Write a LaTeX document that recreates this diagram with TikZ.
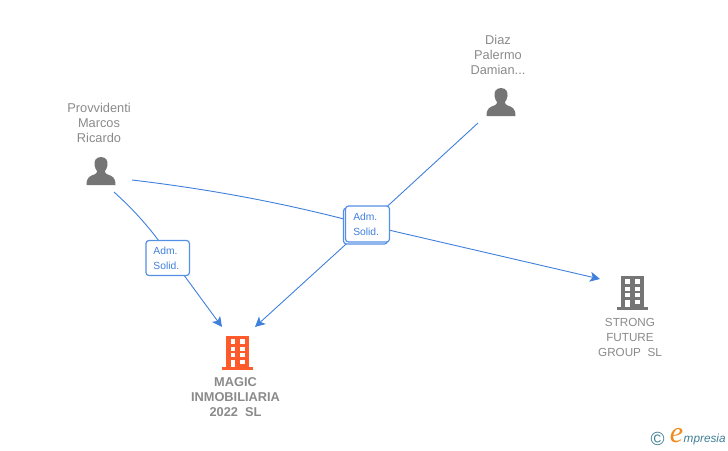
\documentclass[tikz,border=0pt]{standalone}
\usepackage{fontspec}
\setmainfont{Liberation Sans}
\newfontfamily\logofont{Liberation Sans}
\newfontfamily\logoefont{Liberation Serif}
\usetikzlibrary{arrows.meta}
\definecolor{linkblue}{HTML}{3F80DD}
\definecolor{boxblue}{HTML}{5590E4}
\definecolor{icongrey}{HTML}{757575}
\definecolor{textgrey}{HTML}{8A8A8A}
\definecolor{bldorange}{HTML}{FF5A2B}
\definecolor{logoteal}{HTML}{3F7F95}
\definecolor{logoorange}{HTML}{F08A1E}
\tikzset{
  x=1pt,y=-1pt,
  link/.style={draw=linkblue,line width=0.9pt,-{Stealth[length=10pt,width=10pt,inset=2.5pt]}},
  plainlink/.style={draw=linkblue,line width=0.9pt},
  rolebox/.style={draw=boxblue,line width=1.2pt,fill=white,rounded corners=3pt,minimum width=43.5pt,minimum height=35pt,inner sep=0pt,text width=28.5pt,align=left,text=linkblue,font=\fontsize{10.3}{15}\selectfont},
  lbl/.style={align=center,text=textgrey,font=\fontsize{11.7}{15}\selectfont,inner sep=0pt},
  plbl/.style={lbl,font=\fontsize{12.8}{15}\selectfont},
  blbl/.style={lbl,font=\fontsize{12.8}{15}\selectfont\bfseries},
  anchorpt/.style={inner sep=0pt,minimum size=0pt},
  pics/person/.style={code={
    \fill[icongrey] (0,-14) .. controls (-5.5,-14) and (-7,-9.5) .. (-6.5,-6) .. controls (-6.2,-3.5) and (-5,-1) .. (-4,0) .. controls (-4,1.5) and (-4.5,2.5) .. (-6,3.2) .. controls (-11,5) and (-14.5,6) .. (-14.5,14) -- (14.5,14) .. controls (14.5,6) and (11,5) .. (6,3.2) .. controls (4.5,2.5) and (4,1.5) .. (4,0) .. controls (5,-1) and (6.2,-3.5) .. (6.5,-6) .. controls (7,-9.5) and (5.5,-14) .. (0,-14) -- cycle;
  }},
  pics/building/.style={code={
    \fill[#1] (-11.5,-16) rectangle (11.5,15);
    \fill[#1] (-15.5,15) rectangle (15.5,17.5);
    \foreach \yy/\hh in {-12.7/4.7,-5.3/4,1.3/4}{
      \fill[white] (-6.8,\yy) rectangle (-2.2,{\yy+\hh});
      \fill[white] (2.5,\yy) rectangle (7.5,{\yy+\hh});
    }
    \fill[white] (-6.8,8) rectangle (-2.2,15);
    \fill[white] (2.5,8) rectangle (7.5,12.3);
  }},
}
\begin{document}
\begin{tikzpicture}
\useasboundingbox (0,0) rectangle (728,450);
% icons
\pic at (101,171) {person};
\pic at (501,102) {person};
\pic at (237.5,352) {building=bldorange};
\pic at (632,292) {building=icongrey};
% anchors of the icons
\node[anchorpt] (p1a) at (114,192) {};
\node[anchorpt] (p1b) at (132,180) {};
\node[anchorpt] (p2) at (478,123) {};
\node[anchorpt] (magicL) at (222,327) {};
\node[anchorpt] (magicR) at (255,327) {};
\node[anchorpt] (strong) at (600,279) {};
\node[anchorpt] (hub1) at (167,252) {};
\node[anchorpt] (hub2) at (367,225) {};
% connectors
\path[link] (p1a.center) .. controls (135,211) and (150,228) .. (hub1.center) -- (magicL.center);
\path[link] (p1b.center) .. controls (225,191) and (300,207) .. (hub2.center) -- (strong.center);
\path[plainlink] (p2.center) -- (hub2.center);
\path[link] (hub2.center) -- (magicR.center);
% role boxes
\node[rolebox,minimum width=44pt,minimum height=36pt] (b2back) at (365.5,226) {};
\node[rolebox,minimum width=44pt,minimum height=36pt] (b2) at (367.5,224) {Adm.\\Solid.};
\node[rolebox] (b1) at (167.7,258) {Adm.\\Solid.};
% labels
\node[plbl] (t1) at (99,123) {Provvidenti\\Marcos\\Ricardo};
\node[plbl] (t2) at (498,55) {Diaz\\Palermo\\Damian...};
\node[blbl] (t3) at (235.5,397) {MAGIC\\INMOBILIARIA\\2022\ \ SL};
\node[lbl] (t4) at (630,337) {STRONG\\FUTURE\\GROUP\ \ SL};
% logo
\node[text=logoteal,inner sep=0pt,font=\logofont\fontsize{19}{19}\selectfont] (cr) at (657.5,439) {©};
\node[text=logoorange,inner sep=0pt,font=\logoefont\itshape\fontsize{30}{30}\selectfont] (le) at (676.5,436) {e};
\node[text=logoteal,inner sep=0pt,anchor=west,font=\logofont\itshape\fontsize{11.8}{14}\selectfont] (lm) at (683.5,439.5) {mpresia};
\end{tikzpicture}
\end{document}
